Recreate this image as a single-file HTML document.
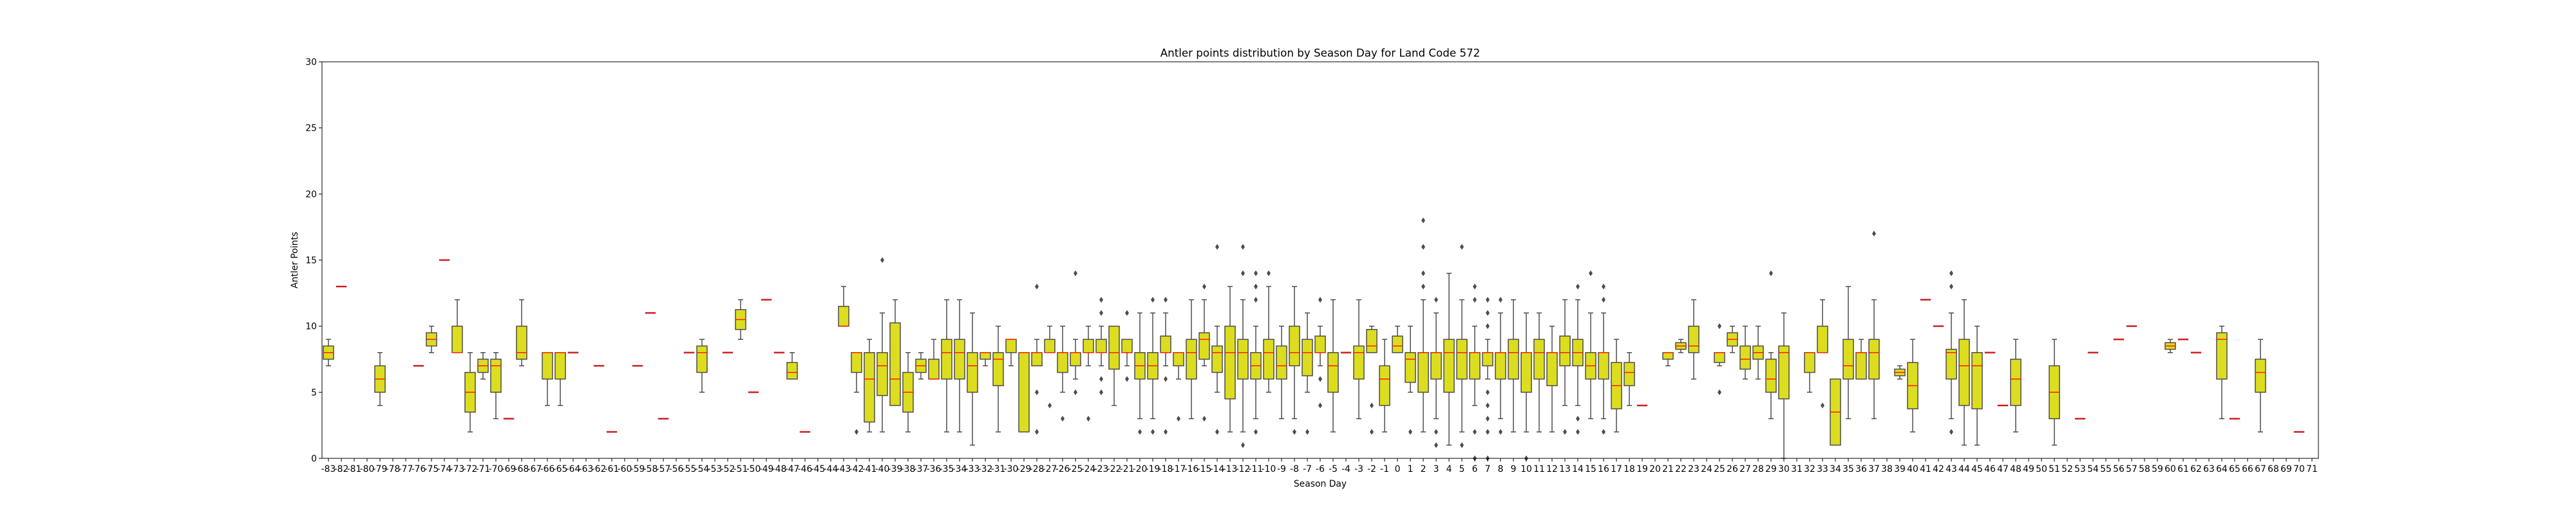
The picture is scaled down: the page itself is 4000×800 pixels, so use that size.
<!DOCTYPE html>
<html><head><meta charset="utf-8"><style>
html,body{margin:0;padding:0;background:#fff}
svg{display:block;font-family:"DejaVu Sans","Liberation Sans",sans-serif}
</style></head><body>
<svg id="chart" width="4000" height="800" viewBox="0 0 4000 800"></svg>
<script>
const days=[-83,-82,-81,-80,-79,-78,-77,-76,-75,-74,-73,-72,-71,-70,-69,-68,-67,-66,-65,-64,-63,-62,-61,-60,-59,-58,-57,-56,-55,-54,-53,-52,-51,-50,-49,-48,-47,-46,-45,-44,-43,-42,-41,-40,-39,-38,-37,-36,-35,-34,-33,-32,-31,-30,-29,-28,-27,-26,-25,-24,-23,-22,-21,-20,-19,-18,-17,-16,-15,-14,-13,-12,-11,-10,-9,-8,-7,-6,-5,-4,-3,-2,-1,0,1,2,3,4,5,6,7,8,9,10,11,12,13,14,15,16,17,18,19,20,21,22,23,24,25,26,27,28,29,30,31,32,33,34,35,36,37,38,39,40,41,42,43,44,45,46,47,48,49,50,51,52,53,54,55,56,57,58,59,60,61,62,63,64,65,66,67,68,69,70,71];
const N=null;
const meds=[8,13,N,N,6,N,N,7,9,15, 8,5,7,7,3,8,N,8,8,8, N,7,2,N,7,11,3,N,8,8, N,8,10.5,5,12,8,6.5,2,N,N, 10,8,6,7,6,5,7,6,8,8, 7,8,7.5,9,8,8,8,8,8,8, 8,8,8,7,7,8,8,8,9,8, 8,8,7,8,7,8,8,8,7,8, 8,8.5,6,8.5,7.5,8,8,8,8,8, 8,8,8,8,8,8,8,8,7,8, 5.5,6.5,4,N,8,8.5,8.5,N,8,9, 7.5,8,6,8,N,8,8,3.5,7,8, 8,N,6.5,5.5,12,10,8,7,7,8, 4,6,N,N,5,N,3,8,N,9, 10,N,N,8.5,9,8,N,9,3,N, 6.5,N,N,2,N];
const q1s=[7.5,13,N,N,5,N,N,7,8.5,15, 8,3.5,6.5,5,3,7.5,N,6,6,8, N,7,2,N,7,11,3,N,8,6.5, N,8,9.75,5,12,8,6,2,N,N, 10,6.5,2.75,4.75,4,3.5,6.5,6,6,6, 5,7.5,5.5,8,2,7,8,6.5,7,8, 8,6.75,8,6,6,8,7,6,7.5,6.5, 4.5,6,6,6,6,7,6.25,8,5,8, 6,8,4,8,5.75,5,6,5,6,6, 7,6,6,5,6,5.5,7,7,6,6, 3.75,5.5,4,N,7.5,8.25,8,N,7.25,8.5, 6.75,7.5,5,4.5,N,6.5,8,1,6,6, 6,N,6.25,3.75,12,10,6,4,3.75,8, 4,4,N,N,3,N,3,8,N,9, 10,N,N,8.25,9,8,N,6,3,N, 5,N,N,2,N];
const q3s=[8.5,13,N,N,7,N,N,7,9.5,15, 10,6.5,7.5,7.5,3,10,N,8,8,8, N,7,2,N,7,11,3,N,8,8.5, N,8,11.25,5,12,8,7.25,2,N,N, 11.5,8,8,8,10.25,6.5,7.5,7.5,9,9, 8,8,8,9,8,8,9,8,8,9, 9,10,9,8,8,9.25,8,9,9.5,8.5, 10,9,8,9,8.5,10,9,9.25,8,8, 8.5,9.75,7,9.25,8,8,8,9,9,8, 8,8,9,8,9,8,9.25,9,8,8, 7.25,7.25,4,N,8,8.75,10,N,8,9.5, 8.5,8.5,7.5,8.5,N,8,10,6,9,8, 9,N,6.75,7.25,12,10,8.25,9,8,8, 4,7.5,N,N,7,N,3,8,N,9, 10,N,N,8.75,9,8,N,9.5,3,N, 7.5,N,N,2,N];
const whLo=[7,13,N,N,4,N,N,7,8,15, 8,2,6,3,3,7,N,4,4,8, N,7,2,N,7,11,3,N,8,5, N,8,9,5,12,8,6,2,N,N, 10,5,2,2,4,2,6,6,2,2, 1,7,2,7,2,7,8,5,6,7, 7,4,7,3,3,7,6,3,7,5, 2,2,3,5,3,3,5,7,2,8, 3,8,2,8,5,2,3,1,2,4, 6,3,2,2,2,2,4,4,3,3, 2,4,4,N,7,8,6,N,7,8, 6,6,3,0,N,5,8,1,3,6, 3,N,6,2,12,10,3,1,1,8, 4,2,N,N,1,N,3,8,N,9, 10,N,N,8,9,8,N,3,3,N, 2,N,N,2,N];
const whHi=[9,13,N,N,8,N,N,7,10,15, 12,8,8,8,3,12,N,8,8,8, N,7,2,N,7,11,3,N,8,9, N,8,12,5,12,8,8,2,N,N, 13,8,9,11,12,8,8,9,12,12, 11,8,10,9,8,9,10,10,9,10, 10,10,9,11,11,11,8,12,12,10, 13,12,10,13,10,13,11,10,12,8, 12,10,9,10,10,12,11,14,12,10, 9,11,12,11,11,10,12,12,11,11, 9,8,4,N,8,9,12,N,8,10, 10,10,8,11,N,8,12,6,13,9, 12,N,7,9,12,10,11,12,10,8, 4,9,N,N,9,N,3,8,N,9, 10,N,N,9,9,8,N,10,3,N, 9,N,N,2,N];
const outlierDays=[-42,-40,-28,-28,-28,-27,-26,-25,-25,-24,-23,-23,-23,-23,-21,-21,-20,-19,-19,-18,-18,-18,-17,-15,-15,-14,-14,-12,-12,-12,-11,-11,-11,-11,-10,-8,-7,-6,-6,-6,-2,-2,1,2,2,2,2,3,3,3,5,5,6,6,6,6,7,7,7,7,7,7,7,7,8,8,10,13,14,14,14,15,16,16,16,25,25,29,33,37,43,43,43];
const outlierVals=[2,15,13,5,2,4,3,14,5,3,12,11,6,5,11,6,2,12,2,12,6,2,3,13,3,16,2,16,14,1,14,13,12,2,14,2,2,12,6,4,4,2,2,18,16,14,13,12,2,1,16,1,13,12,2,0,12,11,10,5,4,3,2,0,12,2,0,2,13,3,2,14,13,12,2,10,5,14,4,17,14,13,2];
const yTicks=[0,5,10,15,20,25,30];

const NS="http://www.w3.org/2000/svg";
const svg=document.getElementById('chart');
const L=500,R=3600,T=96,B=712,YMAX=30;
const step=(R-L)/days.length;
function xOf(d){return L+(days.indexOf(d)+0.5)*step;}
function yOf(v){return B-(v/YMAX)*(B-T);}
function mk(tag,attrs,parent){const e=document.createElementNS(NS,tag);for(const k in attrs)e.setAttribute(k,attrs[k]);(parent||svg).appendChild(e);return e;}
const EDGE="#4d4d4d",FILL="#dddd1f",MED="#ff1a00";
const bw=16,cap=8;

const plot=mk('g',{});



days.forEach((d,i)=>{
  if(meds[i]===null)return;
  const g=mk('g',{},plot);
  
  
  const cx=xOf(d);
  const yq1=yOf(q1s[i]),yq3=yOf(q3s[i]),ylo=yOf(whLo[i]),yhi=yOf(whHi[i]),ym=yOf(meds[i]);
  const single=(q1s[i]===q3s[i]&&whLo[i]===whHi[i]);
  if(single){
    mk('line',{x1:cx-bw/2-0.5,x2:cx+bw/2+0.5,y1:ym,y2:ym,stroke:'#c8c8c8','stroke-width':3},g);
    mk('line',{x1:cx-bw/2,x2:cx+bw/2,y1:ym,y2:ym,stroke:'#d8141a','stroke-width':2.2},g);
    return;
  }
  mk('line',{x1:cx,x2:cx,y1:yq3,y2:yhi,stroke:EDGE,'stroke-width':1.5},g);
  mk('line',{x1:cx,x2:cx,y1:yq1,y2:ylo,stroke:EDGE,'stroke-width':1.5},g);
  if(whHi[i]!==q3s[i])mk('line',{x1:cx-cap/2,x2:cx+cap/2,y1:yhi,y2:yhi,stroke:EDGE,'stroke-width':1.5},g);
  if(whLo[i]!==q1s[i])mk('line',{x1:cx-cap/2,x2:cx+cap/2,y1:ylo,y2:ylo,stroke:EDGE,'stroke-width':1.5},g);
  mk('rect',{x:cx-bw/2,y:yq3,width:bw,height:Math.max(0,yq1-yq3),fill:FILL,stroke:EDGE,'stroke-width':1.5},g);
  mk('line',{x1:cx-bw/2,x2:cx+bw/2,y1:ym,y2:ym,stroke:MED,'stroke-width':1.5},g);
});

outlierDays.forEach((d,k)=>{
  const cx=xOf(d),cy=yOf(outlierVals[k]);
  const p=mk('polygon',{points:`${cx},${cy-4.5} ${cx+3},${cy} ${cx},${cy+4.5} ${cx-3},${cy}`,fill:EDGE},plot);
  
  
});

const frame=mk('rect',{x:L,y:T,width:R-L,height:B-T,fill:'none',stroke:'#000','stroke-width':1});



const yAx=mk('g',{});


yTicks.forEach(v=>{
  const y=yOf(v);
  mk('line',{x1:L-5,x2:L,y1:y,y2:y,stroke:'#000','stroke-width':1},yAx);
  const t=mk('text',{x:L-8,y:y+5,'text-anchor':'end','font-size':'13.9px',fill:'#000'},yAx);
  t.textContent=v;
  
  
});
const xAx=mk('g',{});


days.forEach(d=>{
  const x=xOf(d);
  mk('line',{x1:x,x2:x,y1:B,y2:B+5,stroke:'#000','stroke-width':1},xAx);
  const t=mk('text',{x:x,y:B+21,'text-anchor':'middle','font-size':'13.9px',fill:'#000'},xAx);
  t.textContent=d;
  
  
});
const xl=mk('text',{x:(L+R)/2,y:756,'text-anchor':'middle','font-size':'13.9px',fill:'#000'});
xl.textContent='Season Day';


const yl=mk('text',{x:0,y:0,'text-anchor':'middle','font-size':'13.9px',fill:'#000',transform:`translate(462,${(T+B)/2}) rotate(-90)`});
yl.textContent='Antler Points';


const ti=mk('text',{x:(L+R)/2,y:88,'text-anchor':'middle','font-size':'16.7px',fill:'#000'});
ti.textContent='Antler points distribution by Season Day for Land Code 572';


</script>
</body></html>
